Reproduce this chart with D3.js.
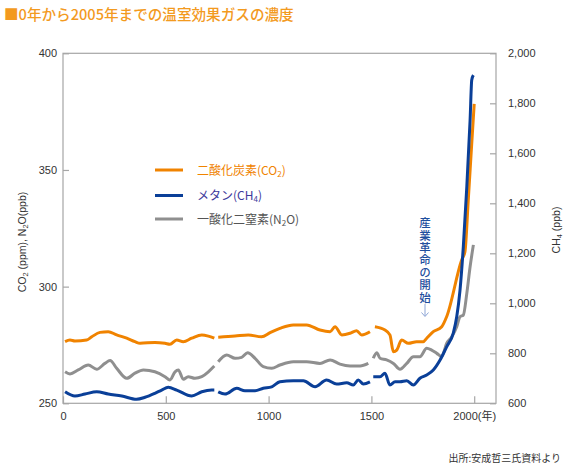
<!DOCTYPE html>
<html><head><meta charset="utf-8">
<script src="https://cdn.jsdelivr.net/npm/d3@7"></script>
<style>
body{margin:0;background:#fff;}
svg{display:block;}
</style></head>
<body>
<svg id="chart" width="579" height="468"></svg>
<script>
// ---- Data ----
const co2Years  = [10,34,58,115,140,180,220,261,310,350,375,447,496,520,553,585,626,675,707,736,745,755,837,901,966,1007,1055,1120,1185,1250,1299,1323,1356,1396,1428,1453,1493,1500,1517,1566,1590,1607,1623,1647,1680,1720,1752,1769,1801,1842,1866,1939,1955,1971,1988,2000];
const co2Values = [276.4,277.1,276.7,277.1,278.5,280.4,280.7,279.3,277.9,276.4,275.7,276.1,275.7,275.3,277.1,276.4,277.9,279.3,278.8,277.9,null,278.3,278.8,279.3,278.5,280.3,282.1,283.6,283.6,281.4,280.7,282.8,279.3,280,281.1,279.3,280.7,null,282.8,281.4,279.3,272.1,272.8,277.1,275.7,276.4,276.4,277.9,280.7,282.8,287.1,311.4,315,337,361.4,378.3];

const ch4Years  = [10,58,107,164,220,286,358,399,447,480,512,553,626,675,723,736,745,755,788,845,885,934,974,1015,1055,1120,1169,1226,1282,1331,1380,1412,1436,1461,1493,1500,1509,1542,1566,1590,1615,1639,1672,1704,1736,1769,1801,1834,1866,1898,1915,1931,1947,1964,1980,1988,1996];
const ch4Values = [646,629,637,646,637,629,616,624,640,653,664,653,629,646,653,653,null,646,637,660,650,650,660,666,686,690,690,666,693,677,682,673,693,677,686,null,706,706,720,673,686,686,690,673,700,713,733,773,826,880,946,1053,1226,1466,1733,1893,1913];

const n2oYears  = [10,34,74,123,164,204,229,261,310,350,391,447,496,520,545,561,585,609,642,675,707,736,745,755,796,837,869,898,934,974,1015,1055,1120,1185,1250,1299,1347,1396,1445,1485,1497,1509,1526,1542,1574,1607,1639,1672,1704,1736,1769,1793,1818,1842,1866,1891,1915,1931,1947,1964,1980,1996];
const n2oValues = [263.5,262.6,264.3,266.4,264.6,267.1,268.3,265,260.7,262.9,264.3,263.5,261.4,260,263.5,264.3,260.3,261.4,260.7,261.4,263.5,266,null,267.8,270.7,269.3,269.7,271.7,269.3,265.7,265,266.4,267.8,267.8,267.1,268.6,266.8,266,266,267.1,null,269.3,271.7,269.3,268.6,267.1,264.6,267.1,270,270,273.6,272.8,271.4,270,275.7,278.5,282.8,287.1,287.8,297.1,308.5,317.9];

const leftTicks   = [250,300,350,400];
const rightTicks  = [600,800,1000,1200,1400,1600,1800,2000];
const xTicks      = [0,500,1000,1500,2000];
const xTickLabels = ["0","500","1000","1500","2000(年)"];

const titleText  = "■0年から2005年までの温室効果ガスの濃度";
const sourceText = "出所:安成哲三氏資料より";
const noteText   = "産業革命の開始";

const seriesNames  = [["二酸化炭素(CO","2",")"],["メタン(CH","4",")"],["一酸化二窒素(N","2","O)"]];
const seriesColors = ["#f08300","#0a3f98","#8f8f8f"];
const labelColors  = ["#f08300","#3d3a9c","#555555"];

// ---- Chart ----
const svg = d3.select("#chart");
const L = 63, R = 496, T = 53.3, B = 403.3;
const font = "'Liberation Sans', Arial, sans-serif";
const cjk = "'Noto Sans CJK JP', sans-serif";

const x  = d3.scaleLinear().domain([0, 2106]).range([L, R]);
const yL = d3.scaleLinear().domain([250, 400]).range([B, T]);
const yR = d3.scaleLinear().domain([600, 2000]).range([B, T]);

// title
svg.append("text").attr("x", 4).attr("y", 20)
  .attr("font-family", cjk).attr("font-size", 14.6).attr("font-weight", 500)
  .attr("fill", "#f39a1e").text(titleText);

// frame
svg.append("rect").attr("x", L).attr("y", T).attr("width", R - L).attr("height", B - T)
  .attr("fill", "none").attr("stroke", "#a6a6a6").attr("stroke-width", 1.2);

const gl = svg.append("g").attr("transform", `translate(${L},0)`)
  .call(d3.axisLeft(yL).tickValues(leftTicks).tickSizeInner(-6).tickSizeOuter(0).tickPadding(6));
const gr = svg.append("g").attr("transform", `translate(${R},0)`)
  .call(d3.axisRight(yR).tickValues(rightTicks).tickSizeInner(-6).tickSizeOuter(0).tickPadding(12).tickFormat(d3.format(",")));
const gb = svg.append("g").attr("transform", `translate(0,${B})`)
  .call(d3.axisBottom(x).tickValues(xTicks).tickSizeInner(-7).tickSizeOuter(0).tickPadding(9)
    .tickFormat((d, i) => xTickLabels[i]));

[gl, gr, gb].forEach(g => {
  g.select(".domain").remove();
  g.selectAll(".tick line").attr("stroke", "#a6a6a6").attr("stroke-width", 1.2);
  g.selectAll(".tick text").attr("font-family", font).attr("font-size", 11).attr("fill", "#333");
});
gb.selectAll(".tick text").attr("font-family", `'Liberation Sans', 'Noto Sans CJK JP', sans-serif`);

// axis titles
const lt = svg.append("text").attr("transform", "translate(26,242) rotate(-90)")
  .attr("text-anchor", "middle").attr("font-family", font).attr("font-size", 10.5).attr("fill", "#333");
lt.append("tspan").text("CO");
lt.append("tspan").attr("font-size", 7.5).attr("dy", 2).text("2");
lt.append("tspan").attr("dy", -2).text(" (ppm), N");
lt.append("tspan").attr("font-size", 7.5).attr("dy", 2).text("2");
lt.append("tspan").attr("dy", -2).text("O(ppb)");

const rt = svg.append("text").attr("transform", "translate(560,230) rotate(-90)")
  .attr("text-anchor", "middle").attr("font-family", font).attr("font-size", 10.5).attr("fill", "#333");
rt.append("tspan").text("CH");
rt.append("tspan").attr("font-size", 7.5).attr("dy", 2).text("4");
rt.append("tspan").attr("dy", -2).text(" (ppb)");

// lines
function drawLine(years, values, yScale, color) {
  const data = years.map((yr, i) => ({yr, v: values[i]}));
  const line = d3.line().defined(d => d.v !== null)
    .x(d => x(d.yr)).y(d => yScale(d.v)).curve(d3.curveMonotoneX);
  svg.append("path").datum(data).attr("d", line)
    .attr("fill", "none").attr("stroke", color).attr("stroke-width", 3)
    .attr("stroke-linejoin", "round").attr("stroke-linecap", "butt");
}
drawLine(n2oYears, n2oValues, yL, seriesColors[2]);
drawLine(co2Years, co2Values, yL, seriesColors[0]);
drawLine(ch4Years, ch4Values, yR, seriesColors[1]);

// legend
const legY = [170, 195.5, 219];
seriesNames.forEach((parts, i) => {
  svg.append("line").attr("x1", 155).attr("x2", 183).attr("y1", legY[i]).attr("y2", legY[i])
    .attr("stroke", seriesColors[i]).attr("stroke-width", 3);
  const t = svg.append("text").attr("x", 197).attr("y", legY[i] + 4.5)
    .attr("font-family", cjk).attr("font-size", 12).attr("fill", labelColors[i]);
  t.append("tspan").text(parts[0]);
  t.append("tspan").attr("font-size", 8).attr("dy", 2).text(parts[1]);
  t.append("tspan").attr("dy", -2).text(parts[2]);
});

// annotation (vertical text)
svg.append("text").attr("x", 425).attr("y", 217)
  .attr("font-family", cjk).attr("font-size", 11.5).attr("font-weight", 500).attr("fill", "#1f4f9e")
  .attr("letter-spacing", 0.9)
  .style("writing-mode", "vertical-rl").style("text-orientation", "upright")
  .text(noteText);
svg.append("path").attr("d", "M425,304 V316 M421.5,312.5 L425,316.5 L428.5,312.5")
  .attr("fill", "none").attr("stroke", "#8ea6d6").attr("stroke-width", 1);

// source
svg.append("text").attr("x", 561).attr("y", 462).attr("text-anchor", "end")
  .attr("font-family", cjk).attr("font-size", 10).attr("fill", "#333").text(sourceText);
</script>
</body></html>
